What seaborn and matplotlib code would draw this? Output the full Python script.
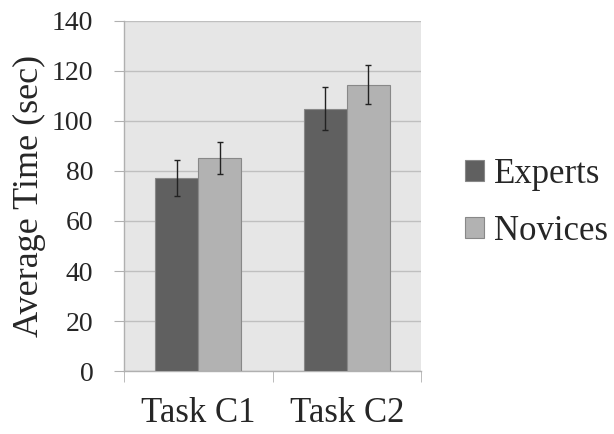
import pandas as pd
import matplotlib
matplotlib.use("Agg")
import matplotlib.pyplot as plt
import seaborn as sns

tasks = ["Task C1", "Task C2"]
groups = ["Experts", "Novices"]
experts_mean = [77.3, 104.9]
novices_mean = [85.0, 114.4]
experts_err = [7.2, 8.7]
novices_err = [6.4, 7.8]

df = pd.DataFrame({
    "task": tasks * 2,
    "group": ["Experts"] * 2 + ["Novices"] * 2,
    "time": experts_mean + novices_mean,
    "err": experts_err + novices_err,
})

sns.set_style("white")
plt.rcParams["font.family"] = ["Liberation Serif", "DejaVu Serif"]

fig = plt.figure(figsize=(6.14, 4.34), dpi=100)
ax = fig.add_axes([0.202, 0.145, 0.484, 0.807])
ax.set_facecolor("#e6e6e6")

sns.barplot(
    data=df, x="task", y="time", hue="group",
    order=tasks, hue_order=groups,
    palette=["#606060", "#b2b2b2"],
    errorbar=None, width=0.58,
    edgecolor="#888888", linewidth=0.8,
    ax=ax, zorder=3,
)

# error bars at bar centres
for cont, g in zip(ax.containers, groups):
    sub = df[df["group"] == g].set_index("task").loc[tasks]
    xs = [p.get_x() + p.get_width() / 2 for p in cont.patches]
    ax.errorbar(xs, sub["time"], yerr=sub["err"], fmt="none",
                ecolor="#222222", elinewidth=1.0, capsize=2.5,
                capthick=1.0, zorder=4)

ax.set_ylim(0, 140)
ax.set_xlim(-0.5, 1.5)
ax.set_yticks(range(0, 141, 20))
ax.yaxis.grid(True, color="#bfbfbf", linewidth=1.0, zorder=0)
ax.set_axisbelow(True)

for s in ["top", "right"]:
    ax.spines[s].set_visible(False)
for s in ["left", "bottom"]:
    ax.spines[s].set_color("#b0b0b0")
    ax.spines[s].set_linewidth(1.0)

ax.tick_params(axis="y", direction="out", length=7, color="#b0b0b0",
               labelsize=20, pad=15, left=True)
ax.set_xticks([0, 1])
ax.set_xticklabels(tasks, fontsize=25)
ax.tick_params(axis="x", length=0, pad=19)
# category separator ticks
ax.set_xticks([-0.5, 0.5, 1.5], minor=True)
ax.tick_params(axis="x", which="minor", direction="out", length=8,
               color="#b0b0b0", bottom=True)

ax.set_xlabel("")
ax.set_ylabel("Average Time (sec)", fontsize=26, labelpad=4)

ax.legend(loc="center left", bbox_to_anchor=(0.757, 0.533),
          bbox_transform=fig.transFigure, frameon=False,
          fontsize=25, handlelength=0.55, handleheight=0.55,
          handletextpad=0.3, labelspacing=0.7,
          borderpad=0, borderaxespad=0)

fig.savefig("out.png", dpi=100)
